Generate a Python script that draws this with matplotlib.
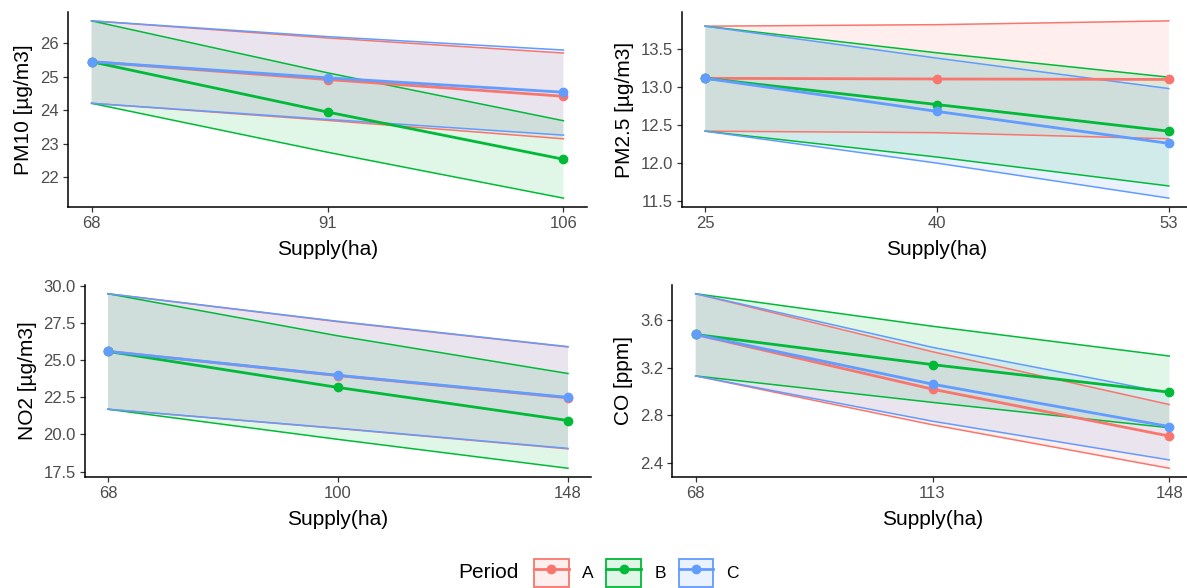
import matplotlib
matplotlib.use("Agg")
import matplotlib.pyplot as plt
from matplotlib.patches import Patch
from matplotlib.lines import Line2D
from matplotlib.ticker import FormatStrFormatter
import numpy as np

plt.rcParams['font.family'] = ['Liberation Sans', 'DejaVu Sans']

periods = ["A", "B", "C"]
colors = {"A": "#F8766D", "B": "#00BA38", "C": "#619CFF"}

# ---- Panel 1: PM10 ----
pm10_x = ["68", "91", "106"]
pm10_mean = {"A": [25.45, 24.92, 24.42], "B": [25.45, 23.95, 22.54], "C": [25.45, 24.97, 24.54]}
pm10_lo = {"A": [24.21, 23.70, 23.15], "B": [24.21, 22.75, 21.38], "C": [24.21, 23.73, 23.26]}
pm10_hi = {"A": [26.67, 26.16, 25.71], "B": [26.67, 25.12, 23.69], "C": [26.67, 26.20, 25.80]}

# ---- Panel 2: PM2.5 ----
pm25_x = ["25", "40", "53"]
pm25_mean = {"A": [13.115, 13.106, 13.10], "B": [13.115, 12.77, 12.42], "C": [13.115, 12.68, 12.26]}
pm25_lo = {"A": [12.42, 12.40, 12.32], "B": [12.42, 12.08, 11.70], "C": [12.42, 12.00, 11.54]}
pm25_hi = {"A": [13.80, 13.82, 13.87], "B": [13.80, 13.45, 13.13], "C": [13.80, 13.38, 12.98]}

# ---- Panel 3: NO2 ----
no2_x = ["68", "100", "148"]
no2_mean = {"A": [25.6, 23.97, 22.47], "B": [25.6, 23.17, 20.94], "C": [25.6, 23.99, 22.50]}
no2_lo = {"A": [21.70, 20.40, 19.03], "B": [21.70, 19.67, 17.72], "C": [21.70, 20.42, 19.06]}
no2_hi = {"A": [29.49, 27.60, 25.90], "B": [29.49, 26.65, 24.11], "C": [29.49, 27.63, 25.92]}

# ---- Panel 4: CO ----
co_x = ["68", "113", "148"]
co_mean = {"A": [3.478, 3.019, 2.625], "B": [3.478, 3.225, 2.994], "C": [3.478, 3.061, 2.705]}
co_lo = {"A": [3.13, 2.72, 2.355], "B": [3.13, 2.908, 2.695], "C": [3.13, 2.75, 2.425]}
co_hi = {"A": [3.82, 3.333, 2.89], "B": [3.82, 3.547, 3.297], "C": [3.82, 3.37, 2.986]}

pm10_ticks = [22, 23, 24, 25, 26]
pm25_ticks = [11.5, 12.0, 12.5, 13.0, 13.5]
no2_ticks = [17.5, 20.0, 22.5, 25.0, 27.5, 30.0]
co_ticks = [2.4, 2.8, 3.2, 3.6]

W, H = 1187, 588
fig = plt.figure(figsize=(W / 100, H / 100), dpi=100)

def px_axes(l, t, r, b):
    return fig.add_axes([l / W, 1 - b / H, (r - l) / W, (b - t) / H])

TITLE_FS = 15
TICK_FS = 12

panels = [
    (px_axes(68, 12, 587, 207), pm10_x, pm10_mean, pm10_lo, pm10_hi, pm10_ticks, "PM10 [µg/m3]", "%d"),
    (px_axes(682, 12, 1192, 207), pm25_x, pm25_mean, pm25_lo, pm25_hi, pm25_ticks, "PM2.5 [µg/m3]", "%.1f"),
    (px_axes(85, 285, 591, 477), no2_x, no2_mean, no2_lo, no2_hi, no2_ticks, "NO2 [µg/m3]", "%.1f"),
    (px_axes(672, 285, 1193, 477), co_x, co_mean, co_lo, co_hi, co_ticks, "CO [ppm]", "%.1f"),
]

for ax, xl, mean, lo, hi, yt, ylab, fmt in panels:
    x = np.arange(len(xl))
    for p in periods:
        c = colors[p]
        ax.fill_between(x, lo[p], hi[p], facecolor=c, alpha=0.12, edgecolor="none", zorder=1)
        ax.plot(x, lo[p], color=c, lw=1.1, zorder=2)
        ax.plot(x, hi[p], color=c, lw=1.1, zorder=2)
    for p in periods:
        c = colors[p]
        ax.plot(x, mean[p], color=c, lw=2.0, zorder=3)
        ax.plot(x, mean[p], 'o', color=c, ms=6, zorder=4)
    allv = np.concatenate([np.array(v) for d in (lo, hi) for v in d.values()])
    mn, mx = allv.min(), allv.max()
    pad = (mx - mn) * 0.05
    ax.set_ylim(mn - pad, mx + pad)
    ax.set_xlim(-0.1, 2.1)
    ax.set_xticks(x)
    ax.set_xticklabels(xl)
    ax.set_yticks(yt)
    ax.yaxis.set_major_formatter(FormatStrFormatter(fmt))
    ax.set_xlabel("Supply(ha)", fontsize=TITLE_FS, color="black", labelpad=6.5)
    ax.set_ylabel(ylab, fontsize=TITLE_FS, color="black", labelpad=5)
    ax.tick_params(labelsize=TICK_FS, labelcolor="#4D4D4D", color="#333333", length=3.5, width=0.9, pad=3)
    for s in ["top", "right"]:
        ax.spines[s].set_visible(False)
    for s in ["left", "bottom"]:
        ax.spines[s].set_linewidth(1.1)
        ax.spines[s].set_color("black")

handles = []
for p in periods:
    c = colors[p]
    handles.append((Patch(facecolor=matplotlib.colors.to_rgba(c, 0.12), edgecolor=c, linewidth=1.3),
                    Line2D([], [], color=c, lw=2.0, marker='o', ms=6)))
fig.text(458 / W, 1 - 573 / H, "Period", fontsize=TITLE_FS, va="center", ha="left")
LEG_FS = 12.5
leg = fig.legend(handles, periods, ncol=3, loc="center left", bbox_to_anchor=(534 / W, 1 - 573 / H),
                 frameon=False, fontsize=LEG_FS, handlelength=2.0, handleheight=2.1,
                 columnspacing=0.75, handletextpad=0.75, borderaxespad=0, borderpad=0)

fig.savefig("out.png", dpi=100)
